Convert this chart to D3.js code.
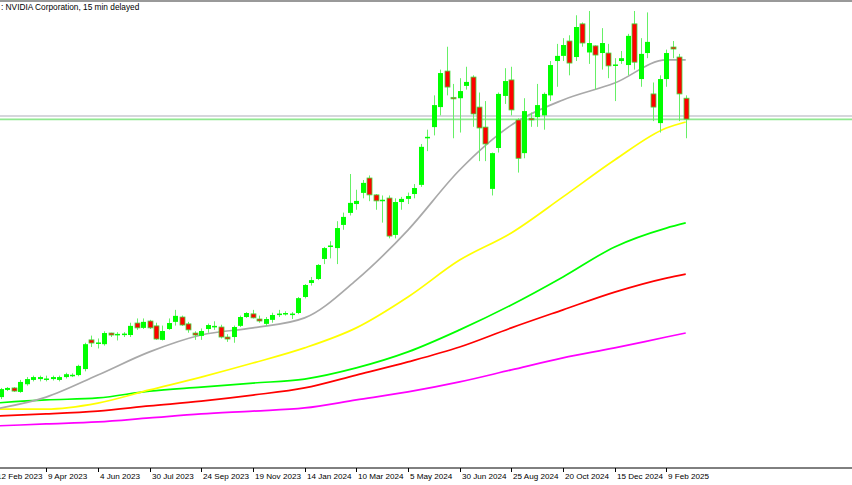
<!DOCTYPE html>
<html>
<head>
<meta charset="utf-8">
<script src="https://cdn.jsdelivr.net/npm/d3@7"></script>
<style>
  body { margin: 0; background: #fff; }
  svg { display: block; }
</style>
</head>
<body>
<div id="chart"></div>
<script>
// weekly candles, week 0 = 12 Feb 2023
var opens  = [20,18.5,21,21.7,20.3,23,24.5,24.8,25,24.8,24.5,25.5,26.1,26.2,28.3,38.5,37.3,37,40.9,40.5,
  40.5,40.2,44.4,42.7,45.1,43.4,38.5,42.3,44.8,46.5,44.1,40.9,39.9,42.3,43,43,39.5,39.5,43.4,46.5,
  47.6,45.8,44.1,45.5,47.4,47.6,47.5,47.9,53.5,58.4,59.8,66.8,71.2,70.6,78.7,82.9,86,89.9,95.1,89.2,
  87.2,88.1,75.2,86.7,87.8,89.5,92.7,109,112.9,119.9,132.5,123.3,123,127.3,130.4,119.9,112.9,91.3,105.6,123.8,
  129.4,115.4,103.8,116,116.4,117,124,136,137.8,143,137.4,149,139,141.3,138.8,138.8,134.4,136,134.6,149,
  129.7,138.8,124.5,114.3,129.7,140.9,137.4,123];
var closes = [18.5,21.3,21.7,20.6,23.8,24.8,25.5,25.5,25,25.5,25.5,26.5,26.3,29.4,37,37.4,37.6,40.9,40.2,40.6,
  40.7,43.4,42.7,44.8,42.7,38.8,41.6,44.4,46.9,43.7,42,40.2,41.6,43.7,43.4,39.5,38.8,43,46.5,47.9,
  46.2,45.1,45.8,47.2,47.7,47.9,47.7,53.1,57.7,59.4,64.7,70.6,71.5,77.6,81.5,86.4,87.1,93.4,89.2,87.1,
  87.5,74.8,86.7,87.8,88.8,91.6,106,109.5,120.6,131.8,126.9,123,125.5,128.7,117.5,112.6,107,103.8,124.5,129,
  118.9,102,118.5,115.4,120.6,124.5,134.6,137.8,141.6,135.3,147.9,142.3,142.3,138.1,142.3,134.3,134.8,137,144.8,135.6,
  138.5,142.7,119.9,129.7,138.8,140.2,124.5,115.7];
var highs  = [20.5,21.7,22,22,24.5,25.5,26,26,26,26,26,27,26.8,29.8,37.5,40,39,41.5,41,41.2,
  41.2,44.5,46,46,45.5,44.5,43.5,46,49,47,44.8,41.5,42.5,44.2,45,43.8,40.5,43.5,47,48.2,
  49,47,46.5,48,49,48.5,48.2,53.5,58,60.5,65,71,73,80,83,96.5,91,94.4,96,89.5,
  89,89,88,88.5,90,93,107,112,124,133,141,128,130,134,131,125,122,104,125,133.5,
  134,116,123,118,128,125,136,142,144,145,152,149.5,153.5,141.5,147.5,142,137,139.5,145.5,153.5,
  144,153,128.5,131,140,143,138.5,124];
var lows   = [18,17.8,20.6,20.3,20,22.5,24,24,24,24.3,24,25,25.5,25.8,27.5,36,35.5,36.5,39.5,38.3,
  39.5,39.5,42,42.3,42.3,38.5,38.3,42,43.5,43.4,41,38.5,38.5,41,42,39,37.8,37.5,43,46.2,
  46,44.5,43.4,44.5,46.5,47,45.8,47.5,53,57.5,59.4,65,67,65,77,82,84,88,87,84,
  79.5,74,74,84,86,88,92,104.5,110,117,124,109,111,126,113,101,101,89,104,121,
  117,97,102,113,113,112,122,127,136,131,136,141,135,126,133,130,122,135,131,133,
  127,137,115,111,127,137,115,109];

// moving averages, read every 8 weeks
var maWeeks   = [0,8,16,24,32,40,48,56,64,72,80,88,96,104,107];
var maGray    = [14.3,18.5,26.2,34.3,40.2,42.7,46.2,59.4,76.9,97.9,113.6,122.4,128.3,136.4,136.4];
var maYellow  = [14.3,14.3,16.4,21,25.5,30.4,35.7,42.7,53.5,66.4,75.9,88.5,101.4,112.6,114.7];
var maGreen   = [16.4,17.5,18.2,20.6,22,23.4,24.8,28.7,34.3,42,50.7,60.5,71,77.6,79.4];
var maRed     = [11.9,12.6,13.6,15.4,17.1,19.2,21.7,26.2,30.8,36,42.7,49,55.2,60.1,61.5];
var maMagenta = [8.4,9.1,9.8,11.2,12.6,13.6,14.7,17.5,20.3,23.8,28,32.2,35.7,39.5,40.9];

var levels = [{ price: 116.8, color: '#c8c8d0' }, { price: 115.6, color: '#90e890' }];

var tickWeeks  = [0,8,16,24,32,40,48,56,64,72,80,88,96,104];
var tickLabels = ['12 Feb 2023','9 Apr 2023','4 Jun 2023','30 Jul 2023','24 Sep 2023','19 Nov 2023',
  '14 Jan 2024','10 Mar 2024','5 May 2024','30 Jun 2024','25 Aug 2024','20 Oct 2024','15 Dec 2024','9 Feb 2025'];

var width = 852, height = 485, axisY = 468;

var svg = d3.select('#chart').append('svg')
  .attr('width', width).attr('height', height)
  .style('font-family', 'Liberation Sans, Arial, sans-serif');

var x = d3.scaleLinear().domain([0, 100]).range([-5.5, 640.5]);
var y = d3.scaleLinear().domain([0, 160]).range([450, -7.6]);

// top border
svg.append('line').attr('x1', 0).attr('x2', width).attr('y1', 1).attr('y2', 1)
  .style('stroke', '#999').style('stroke-width', 2);

svg.append('text').attr('x', 1).attr('y', 10)
  .style('font-size', '8.3px').style('fill', '#000')
  .text(': NVIDIA Corporation, 15 min delayed');

// horizontal levels
svg.selectAll('line.level').data(levels).enter().append('line')
  .attr('class', 'level')
  .attr('x1', 0).attr('x2', width)
  .attr('y1', function(d) { return y(d.price); })
  .attr('y2', function(d) { return y(d.price); })
  .style('stroke', function(d) { return d.color; })
  .style('stroke-width', 1.6);

// moving averages
var mas = [
  { values: maMagenta, color: '#ff00ff' },
  { values: maRed, color: '#ff0000' },
  { values: maGreen, color: '#00ff00' },
  { values: maYellow, color: '#ffff00' },
  { values: maGray, color: '#a9a9a9' }
];
var line = d3.line()
  .x(function(d, i) { return x(maWeeks[i]); })
  .curve(d3.curveMonotoneX);
mas.forEach(function(m) {
  svg.append('path')
    .attr('d', line.y(function(d) { return y(d); })(m.values))
    .style('fill', 'none')
    .style('stroke', m.color)
    .style('stroke-width', 1.7);
});

// candles
var candles = opens.map(function(o, i) {
  return { i: i, o: o, c: closes[i], h: highs[i], l: lows[i] };
});
var g = svg.selectAll('g.candle').data(candles).enter().append('g').attr('class', 'candle');
g.append('line')
  .attr('x1', function(d) { return Math.round(x(d.i)) + 0.5; })
  .attr('x2', function(d) { return Math.round(x(d.i)) + 0.5; })
  .attr('y1', function(d) { return y(d.h); })
  .attr('y2', function(d) { return y(d.l); })
  .style('stroke', '#66f066').style('stroke-width', 1);
g.append('rect')
  .attr('x', function(d) { return Math.round(x(d.i)) - 2; })
  .attr('width', 5)
  .attr('y', function(d) { return y(Math.max(d.o, d.c)); })
  .attr('height', function(d) { return Math.max(1.5, y(Math.min(d.o, d.c)) - y(Math.max(d.o, d.c))); })
  .style('fill', function(d) { return d.c >= d.o ? '#00ff00' : '#ff0000'; })
  .style('stroke', function(d) { return d.c >= d.o ? 'none' : '#40e040'; })
  .style('stroke-width', 0.8);

// time axis
svg.append('line').attr('x1', 0).attr('x2', width).attr('y1', axisY).attr('y2', axisY)
  .style('stroke', '#000').style('stroke-width', 1);
var ticks = svg.selectAll('g.tick').data(tickWeeks).enter().append('g').attr('class', 'tick');
ticks.append('line')
  .attr('x1', function(d) { return Math.round(x(d)) + 0.5; })
  .attr('x2', function(d) { return Math.round(x(d)) + 0.5; })
  .attr('y1', axisY).attr('y2', axisY + 4)
  .style('stroke', '#000');
ticks.append('text')
  .attr('x', function(d) { return Math.round(x(d)) + 2; })
  .attr('y', axisY + 11)
  .style('font-size', '8.1px').style('fill', '#000')
  .text(function(d, i) { return tickLabels[i]; });
</script>
</body>
</html>
